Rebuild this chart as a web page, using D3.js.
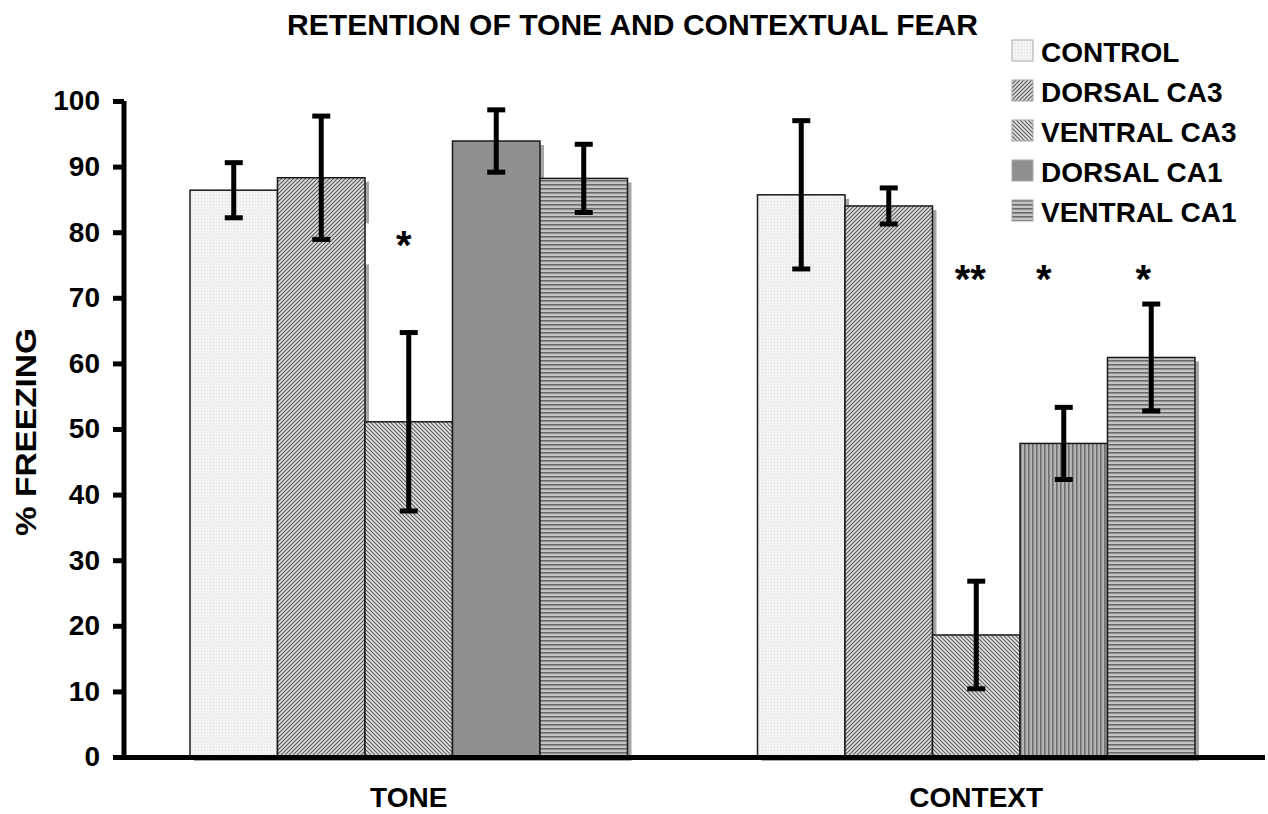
<!DOCTYPE html>
<html><head><meta charset="utf-8">
<script src="https://cdn.jsdelivr.net/npm/d3@7"></script>
<style>
html,body{margin:0;padding:0;background:#fff;}
text{font-family:"Liberation Sans",Arial,sans-serif;font-weight:bold;fill:#000;}
</style></head>
<body>
<svg id="chart" width="1268" height="814"></svg>
<script>
// ---- data ----
const groups = ["TONE", "CONTEXT"];
const series = ["CONTROL", "DORSAL CA3", "VENTRAL CA3", "DORSAL CA1", "VENTRAL CA1"];
const toneMeans    = [86.4, 88.3, 51.1, 93.9, 88.2];
const toneErrors   = [4.2, 9.4, 13.6, 4.75, 5.2];
const contextMeans = [85.7, 84.0, 18.6, 47.8, 60.9];
const contextErrors= [11.3, 2.75, 8.2, 5.5, 8.15];
const toneMarks    = ["", "", "*", "", ""];
const contextMarks = ["", "", "**", "*", "*"];
const yTicks = [0, 10, 20, 30, 40, 50, 60, 70, 80, 90, 100];
const titleText = "RETENTION OF TONE AND CONTEXTUAL FEAR";
const yLabel = "% FREEZING";

// ---- build table ----
const table = [];
groups.forEach((g, gi) => {
  const m = gi === 0 ? toneMeans : contextMeans;
  const e = gi === 0 ? toneErrors : contextErrors;
  const k = gi === 0 ? toneMarks : contextMarks;
  series.forEach((s, si) => table.push({group: g, gi, series: s, si, mean: m[si], err: e[si], mark: k[si]}));
});

const svg = d3.select("#chart");
const defs = svg.append("defs");

// patterns
function pat(id, w, h, bg, draw) {
  const p = defs.append("pattern").attr("id", id).attr("patternUnits", "userSpaceOnUse")
    .attr("width", w).attr("height", h);
  p.append("rect").attr("width", w).attr("height", h).attr("fill", bg);
  draw(p);
}
pat("pControl", 3, 3, "#f6f6f6", p => {
  p.append("rect").attr("x", 0).attr("y", 0).attr("width", 1).attr("height", 1).attr("fill", "#d8d8d8");
  p.append("rect").attr("x", 1.5).attr("y", 1.5).attr("width", 1).attr("height", 1).attr("fill", "#e4e4e4");
});
pat("pDiagUp", 4, 4, "#dedede", p => {
  p.append("path").attr("d", "M-1,1 L1,-1 M0,4 L4,0 M3,5 L5,3").attr("stroke", "#5c5c5c").attr("stroke-width", 1.2);
});
pat("pDiagDown", 4, 4, "#e4e4e4", p => {
  p.append("path").attr("d", "M-1,3 L1,5 M0,0 L4,4 M3,-1 L5,1").attr("stroke", "#606060").attr("stroke-width", 1.2);
});
pat("pHoriz", 4, 4, "#c4c4c4", p => {
  p.append("rect").attr("x", 0).attr("y", 0).attr("width", 4).attr("height", 1.6).attr("fill", "#6a6a6a");
});
pat("pVert", 4, 4, "#b4b4b4", p => {
  p.append("rect").attr("x", 0).attr("y", 0).attr("width", 1.6).attr("height", 4).attr("fill", "#6e6e6e");
});
const seriesFill = ["url(#pControl)", "url(#pDiagUp)", "url(#pDiagDown)", "#8f8f8f", "url(#pHoriz)"];
function barFill(d) {
  if (d.group === "CONTEXT" && d.series === "DORSAL CA1") return "url(#pVert)";
  return seriesFill[d.si];
}

// scales
const y = d3.scaleLinear().domain([0, 100]).range([757, 101]);
const x0 = d3.scaleBand().domain(groups).range([190, 1195]).paddingInner(0.2291).paddingOuter(0);
const x1 = d3.scaleBand().domain(series).range([0, x0.bandwidth()]).padding(0);
const bx = d => x0(d.group) + x1(d.series);

// shadows
svg.append("g").selectAll("rect").data(table).join("rect")
  .attr("x", d => bx(d) + 4).attr("y", d => y(d.mean) + 4)
  .attr("width", x1.bandwidth()).attr("height", d => y(0) - y(d.mean))
  .attr("fill", "#a6a6a6");

// white box behind tone star (covers shadow as in original)
const starDx = {TONE: [0,0,-5,0,0], CONTEXT: [0,0,-6,-20,-8]};
const starVal = {TONE: 78.3, CONTEXT: 73.2};
svg.append("g").selectAll("rect").data(table.filter(d => d.mark && d.group === "TONE")).join("rect")
  .attr("x", d => bx(d) + 0.5).attr("y", d => y(starVal[d.group]) - 20)
  .attr("width", x1.bandwidth() - 2).attr("height", 41).attr("fill", "#fff");

// bars
svg.append("g").selectAll("rect").data(table).join("rect")
  .attr("x", d => bx(d)).attr("y", d => y(d.mean))
  .attr("width", x1.bandwidth()).attr("height", d => y(0) - y(d.mean))
  .attr("fill", d => barFill(d)).attr("stroke", "#1a1a1a").attr("stroke-width", 1.5);

// error bars
const eg = svg.append("g").attr("stroke", "#000").attr("stroke-width", 5);
table.forEach(d => {
  const cx = bx(d) + x1.bandwidth() / 2;
  eg.append("line").attr("x1", cx).attr("x2", cx).attr("y1", y(d.mean + d.err)).attr("y2", y(d.mean - d.err));
  eg.append("line").attr("x1", cx - 9).attr("x2", cx + 9).attr("y1", y(d.mean + d.err)).attr("y2", y(d.mean + d.err));
  eg.append("line").attr("x1", cx - 9).attr("x2", cx + 9).attr("y1", y(d.mean - d.err)).attr("y2", y(d.mean - d.err));
});

// y axis
const yAxis = d3.axisLeft(y).tickValues(yTicks).tickSize(11).tickPadding(13).tickFormat(d3.format("d"));
const ya = svg.append("g").attr("transform", "translate(124,0)").call(yAxis);
ya.select(".domain").attr("stroke", "#000").attr("stroke-width", 5).attr("d", "M0,101V760");
ya.selectAll(".tick line").attr("stroke", "#000").attr("stroke-width", 5);
ya.selectAll(".tick text").attr("font-size", 28).attr("font-family", "Liberation Sans, Arial, sans-serif")
  .attr("font-weight", "bold").attr("fill", "#000");

// x axis
const xAxis = d3.axisBottom(x0).tickSize(0).tickPadding(30);
const xa = svg.append("g").attr("transform", "translate(0,757.5)").call(xAxis);
xa.select(".domain").attr("stroke", "#000").attr("stroke-width", 5).attr("d", "M113,0H1265");
xa.selectAll(".tick text").attr("font-size", 28).attr("font-family", "Liberation Sans, Arial, sans-serif")
  .attr("font-weight", "bold").attr("fill", "#000");

// stars
svg.append("g").selectAll("text").data(table.filter(d => d.mark)).join("text")
  .attr("x", d => bx(d) + x1.bandwidth() / 2 + starDx[d.group][d.si])
  .attr("y", d => y(starVal[d.group]) + 16)
  .attr("text-anchor", "middle").attr("font-size", 40).text(d => d.mark);

// title
svg.append("text").attr("x", 287).attr("y", 35).attr("font-size", 30)
  .attr("textLength", 691).attr("lengthAdjust", "spacingAndGlyphs").text(titleText);

// y label
svg.append("text").attr("transform", "translate(36,432) rotate(-90)").attr("text-anchor", "middle")
  .attr("font-size", 29).attr("textLength", 208).attr("lengthAdjust", "spacingAndGlyphs").text(yLabel);

// legend
const lg = svg.append("g").selectAll("g").data(series).join("g")
  .attr("transform", (d, i) => `translate(1012,${40 + i * 40})`);
lg.append("rect").attr("width", 21).attr("height", 21)
  .attr("fill", (d, i) => seriesFill[i]).attr("stroke", "#aaa").attr("stroke-width", 1);
lg.append("text").attr("x", 29).attr("y", 21.5).attr("font-size", 28).text(d => d);
</script>
</body></html>
